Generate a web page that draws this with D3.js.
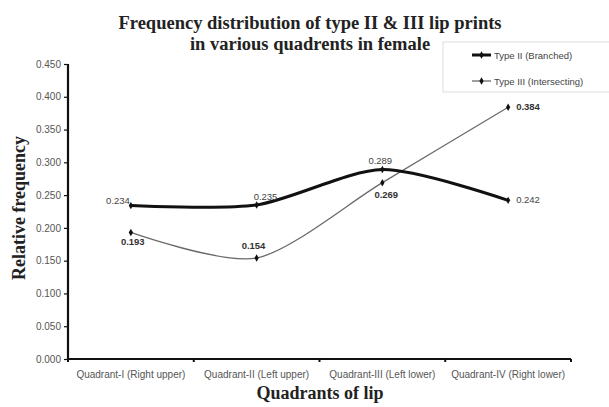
<!DOCTYPE html>
<html><head><meta charset="utf-8">
<script src="https://cdn.jsdelivr.net/npm/d3@7"></script>
<style>body{margin:0;background:#fff}svg{display:block}</style>
</head><body>
<script>
const categories = ["Quadrant-I (Right upper)","Quadrant-II (Left upper)","Quadrant-III (Left lower)","Quadrant-IV (Right lower)"];
const type2 = [0.234,0.235,0.289,0.242];
const type3 = [0.193,0.154,0.269,0.384];
const yTicks = [0,0.05,0.1,0.15,0.2,0.25,0.3,0.35,0.4,0.45];
const seriesNames = ["Type II (Branched)","Type III (Intersecting)"];

(function(){
const W=609,H=407;
const svg=d3.select("body").append("svg").attr("width",W).attr("height",H);
const pL=68,pR=571,pT=64,pB=359;
const x=d3.scaleBand().domain(categories).range([pL,pR]).padding(0);
const y=d3.scaleLinear().domain([0,0.45]).range([pB,pT]);
const cx=c=>x(c)+x.bandwidth()/2;

// title
const t=svg.append("text").attr("x",310).attr("text-anchor","middle")
 .attr("font-family","Liberation Serif").attr("font-weight","bold").attr("font-size",18.5).attr("fill","#222");
t.append("tspan").attr("x",310).attr("y",29).text("Frequency distribution of type II & III lip prints");
t.append("tspan").attr("x",310).attr("y",50).text("in various quadrents in female");

// y axis
const ya=svg.append("g").attr("transform",`translate(${pL},0)`)
 .call(d3.axisLeft(y).tickValues(yTicks).tickFormat(d3.format(".3f")).tickSize(4).tickPadding(3));
ya.select(".domain").attr("stroke","#111").attr("stroke-width",2.2).attr("d",`M0,${pT}V${pB}`);
ya.selectAll(".tick line").attr("stroke","#111").attr("stroke-width",1.2);
ya.selectAll("text").attr("font-family","Liberation Sans").attr("font-size",10).attr("fill","#555");

// x axis
const xa=svg.append("g").attr("transform",`translate(0,${pB})`)
 .call(d3.axisBottom(x).tickSize(0).tickPadding(12));
xa.select(".domain").attr("stroke","#111").attr("stroke-width",2.2).attr("d",`M${pL},0H${pR}`);
xa.selectAll("text").attr("font-family","Liberation Sans").attr("font-size",10).attr("fill","#555");
const bounds=categories.map(c=>x(c)).concat([pR]);
svg.append("g").selectAll("line").data(bounds).join("line")
 .attr("x1",d=>d).attr("x2",d=>d).attr("y1",pB).attr("y2",pB+3).attr("stroke","#111").attr("stroke-width",2);

// axis titles
svg.append("text").attr("x",320).attr("y",399).attr("text-anchor","middle")
 .attr("font-family","Liberation Serif").attr("font-weight","bold").attr("font-size",18).attr("fill","#222").text("Quadrants of lip");
svg.append("text").attr("transform","translate(25,208) rotate(-90)").attr("text-anchor","middle")
 .attr("font-family","Liberation Serif").attr("font-weight","bold").attr("font-size",18).attr("fill","#222").text("Relative frequency");

const line=d3.line().x((d,i)=>cx(categories[i])).y(d=>y(d)).curve(d3.curveCardinal.tension(0.2));
svg.append("path").datum(type3).attr("d",line).attr("fill","none").attr("stroke","#6a6a6a").attr("stroke-width",1.3);
svg.append("path").datum(type2).attr("d",line).attr("fill","none").attr("stroke","#111").attr("stroke-width",3);

const sym=d3.symbol().type(d3.symbolDiamond).size(16);
svg.append("g").selectAll("path").data(type3).join("path")
 .attr("transform",(d,i)=>`translate(${cx(categories[i])},${y(d)})`).attr("d",sym).attr("fill","#111");
svg.append("g").selectAll("path").data(type2).join("path")
 .attr("transform",(d,i)=>`translate(${cx(categories[i])},${y(d)})`).attr("d",sym).attr("fill","#111");

// labels
const lab2=[[-1,-2,"end"],[-3,-5,"start"],[-14,-6,"start"],[8,3,"start"]];
const lab3=[[-10,13,"start"],[-15,-9,"start"],[-8,15,"start"],[8,3,"start"]];
const fmt=d3.format(".3f");
svg.append("g").selectAll("text").data(type2).join("text")
 .attr("x",(d,i)=>cx(categories[i])+lab2[i][0]).attr("y",(d,i)=>y(d)+lab2[i][1]).attr("text-anchor",(d,i)=>lab2[i][2])
 .attr("font-family","Liberation Sans").attr("font-size",9.5).attr("fill","#444").text(fmt);
svg.append("g").selectAll("text").data(type3).join("text")
 .attr("x",(d,i)=>cx(categories[i])+lab3[i][0]).attr("y",(d,i)=>y(d)+lab3[i][1]).attr("text-anchor",(d,i)=>lab3[i][2])
 .attr("font-family","Liberation Sans").attr("font-size",9.5).attr("font-weight","bold").attr("fill","#333").text(fmt);

// legend
const lg=svg.append("g");
lg.append("rect").attr("x",443).attr("y",42).attr("width",170).attr("height",50).attr("fill","#fff").attr("stroke","#ddd").attr("stroke-width",1);
const ly=[55,81];
ly.forEach((yy,i)=>{
  lg.append("line").attr("x1",472).attr("x2",491).attr("y1",yy).attr("y2",yy).attr("stroke",i?"#6a6a6a":"#111").attr("stroke-width",i?1.3:3);
  lg.append("path").attr("transform",`translate(481.5,${yy})`).attr("d",sym).attr("fill","#111");
  lg.append("text").attr("x",494).attr("y",yy+3.5).attr("font-family","Liberation Sans").attr("font-size",9.5).attr("fill","#444").text(seriesNames[i]);
});
})();
</script>
</body></html>
